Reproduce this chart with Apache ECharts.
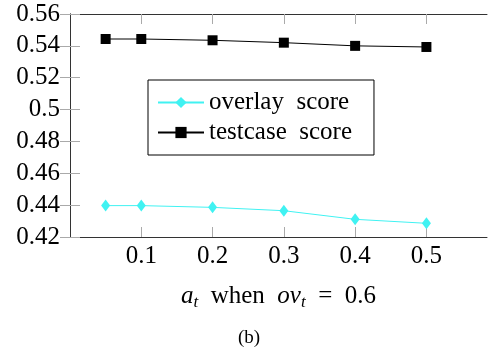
<!DOCTYPE html>
<html><head><meta charset="utf-8">
<script src="https://cdn.jsdelivr.net/npm/echarts@6/dist/echarts.min.js"></script>
<style>html,body{margin:0;padding:0;background:#fff}#c{width:498px;height:347px}</style>
</head><body><div id="c"></div>
<script>
const xValues = [0.05, 0.1, 0.2, 0.3, 0.4, 0.5];
const overlayScore = [0.4397, 0.4397, 0.4386, 0.4365, 0.4311, 0.4286];
const testcaseScore = [0.5443, 0.5443, 0.5435, 0.5420, 0.5400, 0.5393];
const xTicks = [0.1, 0.2, 0.3, 0.4, 0.5];
const yTicks = [0.42, 0.44, 0.46, 0.48, 0.5, 0.52, 0.54, 0.56];
const seriesNames = ['overlay score', 'testcase score'];

const FONT = "'Liberation Serif', serif";
const chart = echarts.init(document.getElementById('c'));
const pair = (xs, ys) => xs.map((x, i) => [x, ys[i]]);
const tickStyle = {show: true, inside: true, length: 10, lineStyle: {color: '#aaa', width: 1}};
const lineStyle = {color: '#333', width: 1};
const fmt = v => String(+v.toFixed(2));
chart.setOption({
  animation: false,
  grid: {left: 70, right: 11, top: 14, bottom: 110},
  title: {text: '(b)', left: 'center', top: 324, textStyle: {fontFamily: FONT, fontSize: 19, fontWeight: 'normal', color: '#000'}},
  legend: {
    orient: 'vertical', left: 148, top: 80,
    padding: [10, 22, 10, 9], itemGap: 5,
    itemWidth: 46, itemHeight: 14,
    borderColor: '#000', borderWidth: 1, backgroundColor: '#fff',
    textStyle: {fontFamily: FONT, fontSize: 25, color: '#000'},
    formatter: n => n.replace(' ', '\u2002'),
    data: seriesNames
  },
  xAxis: [{
    type: 'value', min: 0, max: 0.585, interval: 0.1,
    splitLine: {show: false},
    axisLine: {show: true, lineStyle: lineStyle},
    axisTick: Object.assign({customValues: xTicks}, tickStyle),
    axisLabel: {customValues: xTicks, margin: 7, fontFamily: FONT, fontSize: 25, color: '#000', formatter: fmt},
    name: '{i|a}{s|t}\u2002when\u2002{i|ov}{s|t}\u2002=\u20020.6',
    nameLocation: 'middle', nameGap: 45,
    nameTextStyle: {fontFamily: FONT, fontSize: 25, color: '#000',
      rich: {i: {fontFamily: FONT, fontSize: 25, fontStyle: 'italic'}, s: {fontFamily: FONT, fontSize: 17, fontStyle: 'italic', padding: [12, 0, 0, 0]}}}
  }, {
    type: 'value', position: 'top', min: 0, max: 0.585, interval: 0.1,
    splitLine: {show: false},
    axisLine: {show: true, lineStyle: lineStyle},
    axisTick: Object.assign({customValues: xTicks}, tickStyle),
    axisLabel: {show: false}
  }],
  yAxis: [{
    type: 'value', min: 0.42, max: 0.56, interval: 0.02,
    splitLine: {show: false},
    axisLine: {show: true, lineStyle: lineStyle},
    axisTick: Object.assign({customValues: yTicks}, tickStyle),
    axisLabel: {customValues: yTicks, margin: 10, fontFamily: FONT, fontSize: 25, color: '#000', formatter: fmt}
  }, {
    type: 'value', position: 'right', min: 0.42, max: 0.56, interval: 0.02,
    splitLine: {show: false},
    axisLine: {show: true, lineStyle: lineStyle},
    axisTick: Object.assign({customValues: yTicks}, tickStyle),
    axisLabel: {show: false}
  }],
  series: [{
    name: seriesNames[0], type: 'line', data: pair(xValues, overlayScore),
    symbol: 'diamond', symbolSize: [9, 12],
    lineStyle: {color: '#40f2f2', width: 1}, itemStyle: {color: '#40f2f2'}
  }, {
    name: seriesNames[1], type: 'line', data: pair(xValues, testcaseScore),
    symbol: 'rect', symbolSize: 10,
    lineStyle: {color: '#000', width: 1}, itemStyle: {color: '#000'}
  }]
});
</script></body></html>
